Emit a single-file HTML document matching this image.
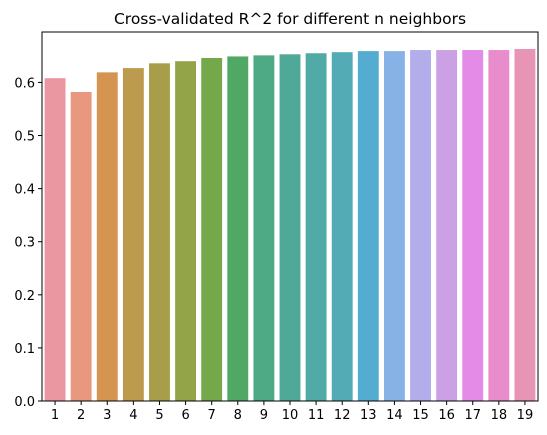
<!DOCTYPE html>
<html><head><meta charset="utf-8"><style>
body{margin:0;background:#fff;}
svg{display:block;font-family:"DejaVu Sans","Liberation Sans",sans-serif;}
</style></head><body>
<svg id="chart" width="547" height="435">
<text x="290" y="24" text-anchor="middle" font-size="15.5">Cross-validated R^2 for different n neighbors</text>
<g id="bars"></g><g id="axes"></g>
</svg>
<script>
const categories = ["1","2","3","4","5","6","7","8","9","10","11","12","13","14","15","16","17","18","19"];
const values = [0.608,0.582,0.619,0.627,0.636,0.640,0.646,0.649,0.651,0.653,0.655,0.657,0.659,0.659,0.661,0.661,0.661,0.661,0.663];
const yTicks = [0.0,0.1,0.2,0.3,0.4,0.5,0.6];
const colors = ["#ea97a2","#e99880","#d5944f","#bc9a4e","#a89d48","#93a347","#74a84a","#4fa964","#4ea985","#50a996","#52aaa6","#53abb5","#54acd0","#87b2e6","#b3aeeb","#cca0e5","#e38be7","#e88ccc","#e895b5"];
const L=42,R=538,T=32,B=401,yMax=0.695;
const ns="http://www.w3.org/2000/svg";
const y=v=>B-(v/yMax)*(B-T);
const step=(R-L)/categories.length;
const x=i=>L+step*i;
const bars=document.getElementById('bars'),axes=document.getElementById('axes');
values.forEach((v,i)=>{
 const r=document.createElementNS(ns,'rect');
 r.setAttribute('x',x(i)+step*0.1);r.setAttribute('width',step*0.8);
 r.setAttribute('y',y(v));r.setAttribute('height',B-y(v));r.setAttribute('fill',colors[i]);
 
 
 bars.appendChild(r);
 const t=document.createElementNS(ns,'text');
 t.setAttribute('x',x(i)+step/2);t.setAttribute('y',B+18);t.setAttribute('text-anchor','middle');t.setAttribute('font-size','13');
 t.textContent=categories[i];
 
 
 axes.appendChild(t);
 const tk=document.createElementNS(ns,'line');
 tk.setAttribute('x1',x(i)+step/2);tk.setAttribute('x2',x(i)+step/2);tk.setAttribute('y1',B);tk.setAttribute('y2',B+4);tk.setAttribute('stroke','#000');
 axes.appendChild(tk);
});
yTicks.forEach(v=>{
 const t=document.createElementNS(ns,'text');
 t.setAttribute('x',L-7);t.setAttribute('y',y(v)+5);t.setAttribute('text-anchor','end');t.setAttribute('font-size','13');
 t.textContent=v.toFixed(1);
 
 
 axes.appendChild(t);
 const tk=document.createElementNS(ns,'line');
 tk.setAttribute('x1',L-4);tk.setAttribute('x2',L);tk.setAttribute('y1',y(v));tk.setAttribute('y2',y(v));tk.setAttribute('stroke','#000');
 axes.appendChild(tk);
});
const fr=document.createElementNS(ns,'rect');
fr.setAttribute('x',L);fr.setAttribute('y',T);fr.setAttribute('width',R-L);fr.setAttribute('height',B-T);
fr.setAttribute('fill','none');fr.setAttribute('stroke','#000');fr.setAttribute('stroke-width','1');


axes.appendChild(fr);
</script>
</body></html>
